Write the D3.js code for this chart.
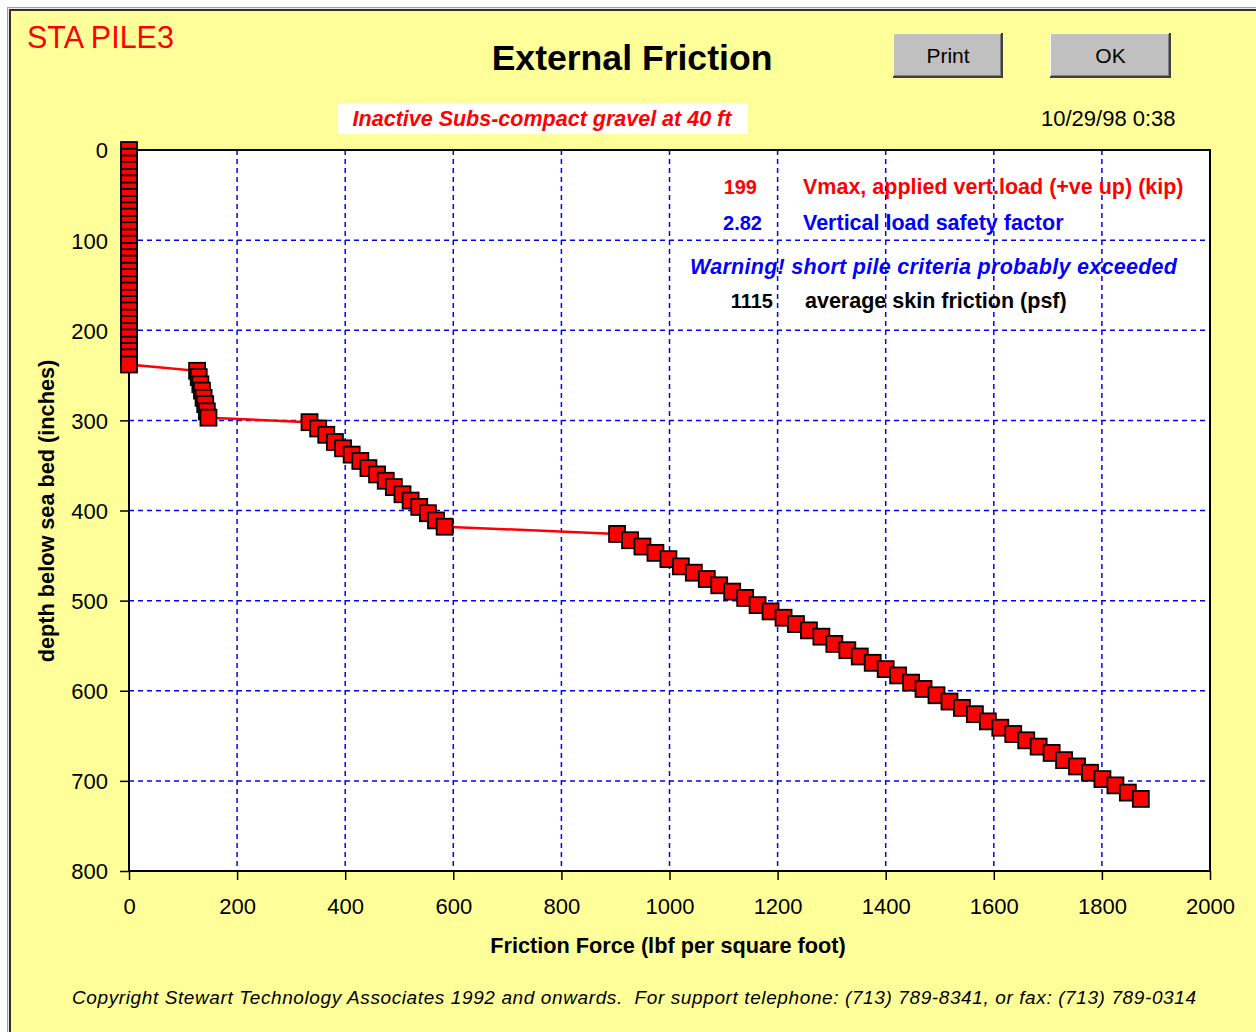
<!DOCTYPE html>
<html>
<head>
<meta charset="utf-8">
<script src="https://cdn.jsdelivr.net/npm/d3@7"></script>
<style>
  body { margin: 0; background: #fff; }
  svg text { font-family: "Liberation Sans", Arial, sans-serif; }
</style>
</head>
<body>
<div id="chart"></div>
<script>
// depth below sea bed (inches) for each pile node
const depth = [
  0, 7.5, 15, 22, 30, 37, 45, 52, 60, 67, 74, 82, 89, 97, 104, 112, 119,
  126, 134, 141, 149, 156, 164, 171, 178, 186, 193, 201, 208, 216, 223, 230, 238,
  245, 252, 260, 267, 275, 282, 290, 297,
  302, 309, 316, 324, 331, 338, 345, 353, 360, 367, 374, 382, 389, 396, 403, 411, 418,
  426, 433, 440, 447, 454, 462, 469, 476, 483, 490, 497, 505, 512, 519, 526, 533,
  540, 548, 555, 562, 569, 576, 583, 591, 598, 605, 612, 619, 626, 634, 641, 648,
  655, 662, 669, 677, 684, 691, 698, 705, 713, 720
]
// friction force (lbf per square foot)
const friction = [
  0, 0, 0, 0, 0, 0, 0, 0, 0, 0, 0, 0, 0, 0, 0, 0, 0,
  0, 0, 0, 0, 0, 0, 0, 0, 0, 0, 0, 0, 0, 0, 0, 0,
  126, 129, 132, 135, 138, 141, 144, 147,
  334, 350, 365, 381, 396, 412, 428, 443, 459, 475, 490, 506, 521, 537, 553, 568, 584,
  903, 927, 950, 974, 998, 1021, 1045, 1069, 1092, 1116, 1140, 1163, 1187, 1211,
  1234, 1258, 1281, 1305, 1329, 1352, 1376, 1400, 1423, 1447, 1470, 1494, 1518,
  1541, 1565, 1589, 1612, 1636, 1660, 1683, 1707, 1730, 1754, 1778, 1801, 1825, 1848, 1872
]
const xTicks = [0, 200, 400, 600, 800, 1000, 1200, 1400, 1600, 1800, 2000]
const yTicks = [0, 100, 200, 300, 400, 500, 600, 700, 800]

// annotation rows: value, label, colour
const noteValues = ['199', '2.82', '1115']
const noteLabels = ['Vmax, applied vert.load (+ve up) (kip)', 'Vertical load safety factor', 'average skin friction (psf)']
const noteColors = ['#ff0000', '#0000ff', '#000000']
const warning = 'Warning! short pile criteria probably exceeded'

const W = 1256, H = 1032
const plotL = 129, plotR = 1210, plotT = 150, plotB = 871

const svg = d3.select('#chart').append('svg')
  .attr('width', W).attr('height', H)

// window frame + yellow sheet
svg.append('rect').attr('x', 0).attr('y', 0).attr('width', W).attr('height', H).attr('fill', '#ffffff')
svg.append('rect').attr('x', 7).attr('y', 7).attr('width', W).attr('height', H)
  .attr('fill', '#a0a0a0')
svg.append('rect').attr('x', 8).attr('y', 8).attr('width', W).attr('height', H)
  .attr('fill', '#e8e8e8')
svg.append('rect').attr('x', 9).attr('y', 9).attr('width', W).attr('height', H)
  .attr('fill', '#303030')
svg.append('rect').attr('x', 11).attr('y', 11).attr('width', W).attr('height', H)
  .attr('fill', '#ffff99')

const x = d3.scaleLinear().domain([0, 2000]).range([plotL, plotR])
const y = d3.scaleLinear().domain([0, 800]).range([plotT, plotB])

// plot area
svg.append('rect')
  .attr('x', plotL).attr('y', plotT)
  .attr('width', plotR - plotL).attr('height', plotB - plotT)
  .attr('fill', '#ffffff')

// grid
const grid = svg.append('g')
  .attr('stroke', '#0000ff').attr('stroke-width', 1.5).attr('stroke-dasharray', '5,4')
grid.selectAll('.vg').data(xTicks.slice(1, -1)).enter().append('line')
  .attr('x1', d => x(d)).attr('x2', d => x(d))
  .attr('y1', plotT).attr('y2', plotB)
grid.selectAll('.hg').data(yTicks.slice(1, -1)).enter().append('line')
  .attr('x1', plotL).attr('x2', plotR)
  .attr('y1', d => y(d)).attr('y2', d => y(d))

// axes
const xAxis = svg.append('g')
  .attr('transform', 'translate(0,' + plotB + ')')
  .call(d3.axisBottom(x).tickValues(xTicks).tickSize(9).tickSizeOuter(0).tickFormat(d3.format('d')))
const yAxis = svg.append('g')
  .attr('transform', 'translate(' + plotL + ',0)')
  .call(d3.axisLeft(y).tickValues(yTicks).tickSize(9).tickSizeOuter(0).tickFormat(d3.format('d')))
;[xAxis, yAxis].forEach(a => {
  a.select('.domain').remove()
  a.selectAll('line').attr('stroke', '#000').attr('stroke-width', 1.5)
  a.selectAll('text').attr('fill', '#000').style('font-size', '22px')
})
xAxis.selectAll('text').attr('y', 0).attr('dy', 0).attr('transform', 'translate(0,43)')
yAxis.selectAll('text').attr('x', -21).attr('dy', '0.36em')

// plot border
svg.append('rect')
  .attr('x', plotL).attr('y', plotT)
  .attr('width', plotR - plotL).attr('height', plotB - plotT)
  .attr('fill', 'none').attr('stroke', '#000').attr('stroke-width', 2)

// annotations inside the plot
const noteY = [194, 230, 308]
const valueRight = [757, 762, 773]
const labelLeft = [803, 803, 805]
noteValues.forEach((v, i) => {
  svg.append('text').attr('x', valueRight[i]).attr('y', noteY[i])
    .attr('text-anchor', 'end').attr('fill', noteColors[i])
    .style('font-size', '20px').style('font-weight', 'bold').text(v)
  svg.append('text').attr('x', labelLeft[i]).attr('y', noteY[i])
    .attr('fill', noteColors[i])
    .style('font-size', '21.5px').style('font-weight', 'bold').text(noteLabels[i])
})
svg.append('text').attr('x', 690).attr('y', 274).attr('fill', '#0000ff')
  .style('font-size', '21.5px').style('font-weight', 'bold').style('font-style', 'italic')
  .attr('textLength', 487).text(warning)

// data line + markers
const line = d3.line().x((d, i) => x(friction[i])).y(d => y(d))
svg.append('path').datum(depth)
  .attr('d', line)
  .attr('fill', 'none').attr('stroke', '#ff0000').attr('stroke-width', 2.5)

svg.selectAll('.mk').data(depth).enter().append('rect')
  .attr('x', (d, i) => x(friction[i]) - 8)
  .attr('y', d => y(d) - 8)
  .attr('width', 16).attr('height', 16)
  .attr('fill', '#ff0000').attr('stroke', '#000').attr('stroke-width', 1.8)

// headings
svg.append('text').attr('x', 27).attr('y', 48).attr('fill', '#ff0000')
  .style('font-size', '30.5px').text('STA PILE3')
svg.append('text').attr('x', 632).attr('y', 70).attr('text-anchor', 'middle')
  .style('font-size', '35.6px').style('font-weight', 'bold').text('External Friction')

// buttons
const buttons = [{ label: 'Print', x0: 893, w: 110 }, { label: 'OK', x0: 1050, w: 121 }]
buttons.forEach(b => {
  const g = svg.append('g')
  g.append('rect').attr('x', b.x0).attr('y', 33).attr('width', b.w).attr('height', 45).attr('fill', '#404040')
  g.append('rect').attr('x', b.x0).attr('y', 33).attr('width', b.w - 2).attr('height', 43).attr('fill', '#ffffff')
  g.append('rect').attr('x', b.x0 + 1).attr('y', 34).attr('width', b.w - 3).attr('height', 42).attr('fill', '#808080')
  g.append('rect').attr('x', b.x0 + 1).attr('y', 34).attr('width', b.w - 4).attr('height', 41).attr('fill', '#c0c0c0')
  g.append('text').attr('x', b.x0 + b.w / 2).attr('y', 63).attr('text-anchor', 'middle')
    .style('font-size', '21px').text(b.label)
})

// subtitle box
svg.append('rect').attr('x', 338).attr('y', 103).attr('width', 410).attr('height', 31).attr('fill', '#ffffff')
svg.append('text').attr('x', 542).attr('y', 126).attr('text-anchor', 'middle').attr('fill', '#ff0000')
  .style('font-size', '21.5px').style('font-weight', 'bold').style('font-style', 'italic')
  .text('Inactive Subs-compact gravel at 40 ft')

svg.append('text').attr('x', 1041).attr('y', 126)
  .style('font-size', '22px').text('10/29/98 0:38')

// axis titles
svg.append('text').attr('x', 668).attr('y', 953).attr('text-anchor', 'middle')
  .style('font-size', '21.7px').style('font-weight', 'bold')
  .text('Friction Force (lbf per square foot)')
svg.append('text').attr('transform', 'translate(46,511) rotate(-90)')
  .attr('text-anchor', 'middle').attr('dy', '0.36em')
  .style('font-size', '21.7px').style('font-weight', 'bold')
  .text('depth below sea bed (inches)')

// footer
svg.append('text').attr('x', 72).attr('y', 1004)
  .style('font-size', '19px').style('font-style', 'italic').style('white-space', 'pre')
  .attr('textLength', 1124)
  .text('Copyright Stewart Technology Associates 1992 and onwards.  For support telephone: (713) 789-8341, or fax: (713) 789-0314')
</script>
</body>
</html>
